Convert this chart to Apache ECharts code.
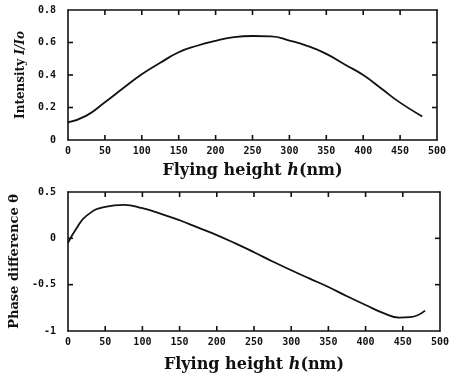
<!DOCTYPE html>
<html>
<head>
<meta charset="utf-8">
<script src="https://cdn.jsdelivr.net/npm/echarts@6/dist/echarts.min.js"></script>
<style>
  html, body { margin: 0; padding: 0; background: #fff; }
  #chart { width: 452px; height: 374px; }
</style>
</head>
<body>
<div id="chart"></div>
<script>
// Intensity I/Io versus flying height h (nm)
const intensityHeights = [0, 25, 50, 75, 100, 125, 150, 175, 200, 225, 250, 275, 300, 325, 350, 375, 400, 425, 450, 480];
const intensityValues  = [0.108, 0.15, 0.232, 0.32, 0.405, 0.475, 0.54, 0.58, 0.61, 0.633, 0.64, 0.638, 0.612, 0.578, 0.53, 0.465, 0.40, 0.315, 0.23, 0.145];

// Phase difference θ versus flying height h (nm)
const phaseHeights = [0, 10, 25, 50, 75, 100, 125, 150, 175, 200, 225, 250, 275, 300, 325, 350, 375, 400, 425, 445, 460, 480];
const phaseValues  = [-0.05, 0.09, 0.245, 0.34, 0.36, 0.325, 0.265, 0.195, 0.115, 0.035, -0.055, -0.15, -0.25, -0.345, -0.435, -0.525, -0.625, -0.72, -0.81, -0.855, -0.85, -0.78];

// Tick labels
const heightTicks = ['0', '50', '100', '150', '200', '250', '300', '350', '400', '450', '500'];
const intensityTicks = ['0', '0.2', '0.4', '0.6', '0.8'];
const phaseTicks = ['-1', '-0.5', '0', '0.5'];

const INK = '#111';
const TICK_LEN = 5;
const tickFont = { fontFamily: 'DejaVu Sans Mono', fontWeight: 'bold', fontSize: 10, color: INK };
const titleFont = 'DejaVu Serif';

function pairs(xs, ys) { return xs.map((x, i) => [x, ys[i]]); }

// Inward tick marks on all four sides of a panel, placed through the panel's axes.
function frameTicks(xTickLabels, yTickLabels) {
  const xv = xTickLabels.map(Number), yv = yTickLabels.map(Number);
  const x0 = xv[0], x1 = xv[xv.length - 1], y0 = yv[0], y1 = yv[yv.length - 1];
  const marks = [];
  xv.slice(1, -1).forEach(x => { marks.push([x, y0, 0, -1]); marks.push([x, y1, 0, 1]); });
  yv.slice(1, -1).forEach(y => { marks.push([x0, y, 1, 0]); marks.push([x1, y, -1, 0]); });
  return marks;
}

function tickSeries(axisIndex, marks) {
  return {
    type: 'custom', xAxisIndex: axisIndex, yAxisIndex: axisIndex,
    data: marks, clip: false, silent: true,
    encode: { x: 0, y: 1 },
    renderItem: (params, api) => {
      const p = api.coord([api.value(0), api.value(1)]);
      const dx = api.value(2), dy = api.value(3);
      return {
        type: 'line',
        shape: { x1: p[0], y1: p[1], x2: p[0] + dx * TICK_LEN, y2: p[1] + dy * TICK_LEN },
        style: { stroke: INK, lineWidth: 1.6 }
      };
    }
  };
}

function frameAxis(extra) {
  return Object.assign({
    type: 'value',
    axisLine: { show: true, onZero: false, lineStyle: { color: INK, width: 1.6 } },
    axisTick: { show: false },
    splitLine: { show: false },
    axisLabel: { show: false }
  }, extra);
}

function heightAxis(gridIndex, gap) {
  return frameAxis({
    gridIndex, min: 0, max: 500, interval: 50, position: 'bottom',
    axisLabel: Object.assign({ show: true, margin: 6,
      formatter: v => heightTicks[Math.round(v / 50)] }, tickFont),
    name: 'Flying height {i|h}(nm)',
    nameLocation: 'middle', nameGap: gap,
    nameTextStyle: {
      fontFamily: titleFont, fontWeight: 'bold', fontSize: 16, color: INK,
      rich: { i: { fontFamily: titleFont, fontWeight: 'bold', fontStyle: 'italic', fontSize: 16, color: INK } }
    }
  });
}

const option = {
  backgroundColor: '#fff',
  animation: false,
  grid: [
    { left: 68, top: 10, width: 369, height: 130 },
    { left: 68, top: 192, width: 374, height: 139 }
  ],
  xAxis: [
    heightAxis(0, 23),
    heightAxis(1, 26),
    frameAxis({ gridIndex: 0, min: 0, max: 500, interval: 50, position: 'top' }),
    frameAxis({ gridIndex: 1, min: 0, max: 500, interval: 50, position: 'top' })
  ],
  yAxis: [
    frameAxis({
      gridIndex: 0, min: 0, max: 0.8, interval: 0.2, position: 'left',
      axisLabel: Object.assign({ show: true, margin: 12,
        formatter: v => intensityTicks[Math.round(v / 0.2)] }, tickFont),
      name: 'Intensity {i|I/Io}', nameLocation: 'middle', nameGap: 34,
      nameTextStyle: {
        fontFamily: titleFont, fontWeight: 'bold', fontSize: 12, color: INK,
        rich: { i: { fontFamily: titleFont, fontWeight: 'bold', fontStyle: 'italic', fontSize: 12, color: INK } }
      }
    }),
    frameAxis({
      gridIndex: 1, min: -1, max: 0.5, interval: 0.5, position: 'left',
      axisLabel: Object.assign({ show: true, margin: 12,
        formatter: v => phaseTicks[Math.round((v + 1) / 0.5)] }, tickFont),
      name: 'Phase difference θ', nameLocation: 'middle', nameGap: 41,
      nameTextStyle: { fontFamily: titleFont, fontWeight: 'bold', fontSize: 13, color: INK }
    }),
    frameAxis({ gridIndex: 0, min: 0, max: 0.8, interval: 0.2, position: 'right' }),
    frameAxis({ gridIndex: 1, min: -1, max: 0.5, interval: 0.5, position: 'right' })
  ],
  series: [
    {
      type: 'line', xAxisIndex: 0, yAxisIndex: 0,
      data: pairs(intensityHeights, intensityValues),
      smooth: 0.5, showSymbol: false,
      lineStyle: { color: INK, width: 1.8 }
    },
    {
      type: 'line', xAxisIndex: 1, yAxisIndex: 1,
      data: pairs(phaseHeights, phaseValues),
      smooth: 0.5, showSymbol: false,
      lineStyle: { color: INK, width: 1.8 }
    },
    tickSeries(0, frameTicks(heightTicks, intensityTicks)),
    tickSeries(1, frameTicks(heightTicks, phaseTicks))
  ]
};

const chart = echarts.init(document.getElementById('chart'), null, { renderer: 'canvas' });
chart.setOption(option);
</script>
</body>
</html>
